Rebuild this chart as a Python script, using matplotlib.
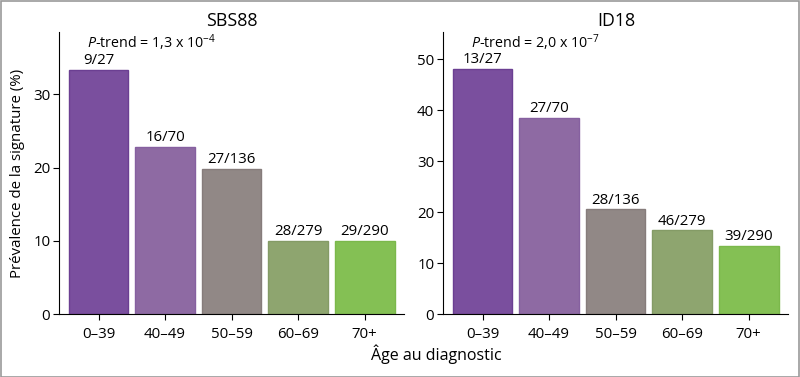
import matplotlib
matplotlib.use('Agg')
import matplotlib.pyplot as plt

plt.rcParams['font.family'] = ['Open Sans', 'DejaVu Sans']
plt.rcParams['mathtext.fontset'] = 'custom'
plt.rcParams['mathtext.rm'] = 'Open Sans'
plt.rcParams['mathtext.it'] = 'Open Sans:italic'

# age groups
ages = ['0–39', '40–49', '50–59', '60–69', '70+']
colors = ['#7a4f9e', '#8e6aa3', '#918886', '#8ea56f', '#84c054']
edges = ['#6b3f92', '#8660a0', '#867c7b', '#849b66', '#7bb84b']

# SBS88: counts with signature / total
sbs88_pos = [9, 16, 27, 28, 29]
sbs88_tot = [27, 70, 136, 279, 290]
# ID18
id18_pos = [13, 27, 28, 46, 39]
id18_tot = [27, 70, 136, 279, 290]

panels = [
    ('SBS88', sbs88_pos, sbs88_tot, r'$\it{P}$-trend = 1,3 x 10$^{-4}$', 38.5, [0, 10, 20, 30]),
    ('ID18', id18_pos, id18_tot, r'$\it{P}$-trend = 2,0 x 10$^{-7}$', 55.4, [0, 10, 20, 30, 40, 50]),
]

fig = plt.figure(figsize=(8.0, 3.77), dpi=100)
lefts = [0.0741, 0.5541]

for left, (name, pos, tot, ptxt, ytop, yt) in zip(lefts, panels):
    ax = fig.add_axes([left, 0.1663, 0.4315, 0.749])
    vals = [100.0 * p / t for p, t in zip(pos, tot)]
    x = list(range(len(ages)))
    ax.bar(x, vals, width=0.9, color=colors, edgecolor=edges, linewidth=1.0)
    for xi, v, p, t in zip(x, vals, pos, tot):
        ax.text(xi, v + ytop * 0.006, f'{p}/{t}', ha='center', va='bottom', fontsize=10.8)
    ax.set_xlim(-0.59, 4.6)
    ax.set_ylim(0, ytop)
    ax.set_yticks(yt)
    ax.set_xticks(x)
    ax.set_xticklabels(ages)
    ax.spines['top'].set_visible(False)
    ax.spines['right'].set_visible(False)
    ax.tick_params(axis='both', direction='out', length=4.5, width=0.8, labelsize=10.8, pad=2)
    ax.tick_params(axis='x', pad=5)
    ax.set_title(name, fontsize=12.8, pad=4)
    ax.text(0.08, 0.962, ptxt, transform=ax.transAxes, ha='left', va='center', fontsize=10.3)

fig.text(0.0225, 0.541, 'Prévalence de la signature (%)', rotation=90, ha='center', va='center', fontsize=10.8)
fig.text(0.546, 0.06, 'Âge au diagnostic', ha='center', va='center', fontsize=11.5)

# thin grey frame around the figure
fig.patches.append(plt.Rectangle((0.001, 0.001), 0.998, 0.997, transform=fig.transFigure,
                                 fill=False, edgecolor='#999999', linewidth=1.2))

fig.savefig('out.png', dpi=100)
